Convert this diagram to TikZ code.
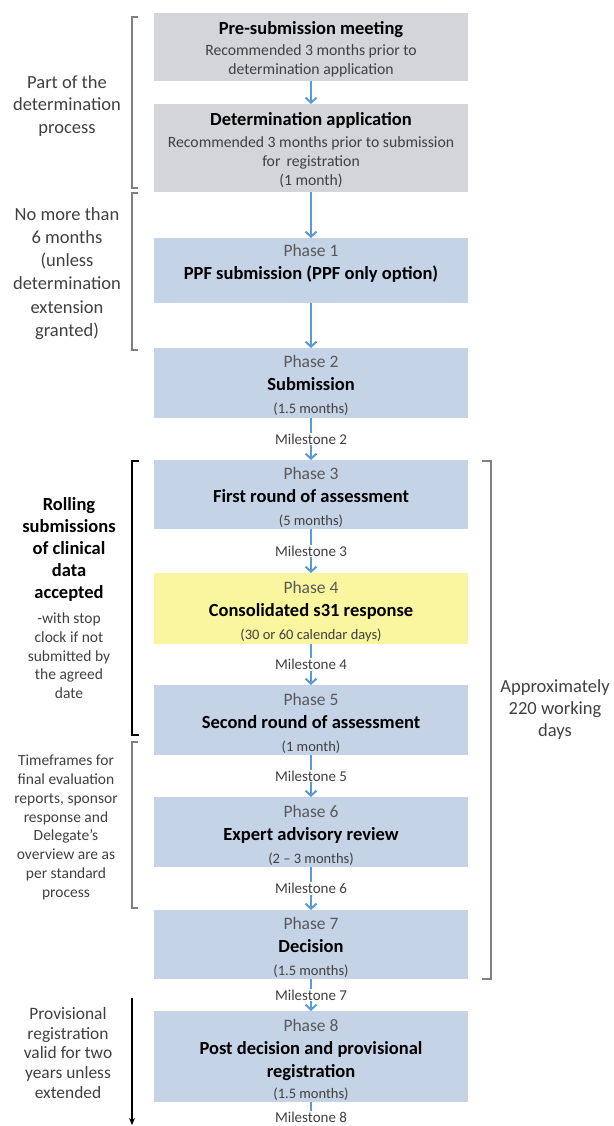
\documentclass[tikz,border=0pt]{standalone}
\usepackage{fontspec}
\setmainfont{Carlito}
\usetikzlibrary{arrows.meta, positioning}
\definecolor{greybox}{RGB}{211,213,217}
\definecolor{bluebox}{RGB}{197,211,230}
\definecolor{yellowbox}{RGB}{250,246,160}
\definecolor{flowblue}{RGB}{91,155,213}
\definecolor{darktext}{RGB}{64,64,64}
\definecolor{phasetext}{RGB}{89,89,89}
\definecolor{brackgrey}{RGB}{127,127,127}
\newcommand{\phasefont}{\fontsize{17.5}{23}\selectfont\color{phasetext}\rule{0pt}{18pt}}
\newcommand{\titlefont}{\fontsize{18.5}{23}\selectfont\bfseries\color{black}\rule{0pt}{17pt}}
\newcommand{\durfont}{\fontsize{14.5}{19}\selectfont\color{darktext}}
\newcommand{\notefont}{\fontsize{15.7}{19}\selectfont\color{darktext}}
\tikzset{
  box/.style = {rectangle, minimum width=314pt, inner sep=0pt, outer sep=0pt, align=center},
  greystep/.style = {box, fill=greybox, font=\fontsize{15.7}{19}\selectfont},
  phase/.style = {box, fill=bluebox, font=\fontsize{17.5}{23}\selectfont},
  flow/.style = {draw=flowblue, line width=2pt},
  flowarrow/.style = {flow, -{Straight Barb[length=5pt,width=11pt]}},
  milestone/.style = {inner sep=1pt, font=\fontsize{15}{18}\selectfont, text=darktext},
  sidenote/.style = {align=center, inner sep=0pt, text=darktext},
  brace/.style = {draw=brackgrey, line width=1.5pt},
}

\begin{document}
\begin{tikzpicture}[x=1pt, y=-1pt]
    \useasboundingbox (0,0) rectangle (613,1126);

    \node (b1) [greystep, minimum height=68pt] at (311,47) {{\titlefont Pre-submission meeting}\\[2pt] {\notefont Recommended 3 months prior to}\\ {\notefont determination application}};
    \node (b2) [greystep, minimum height=88pt, below=23pt of b1] {{\titlefont Determination application}\\[3pt] {\notefont Recommended 3 months prior to submission}\\ {\notefont for\, registration}\\ {\notefont (1 month)}};
    \node (p1) [phase, minimum height=65pt, below=46pt of b2] {{\phasefont Phase 1}\\ {\titlefont PPF submission (PPF only option)}\\ ~};
    \node (p2) [phase, minimum height=70pt, below=45pt of p1] {{\phasefont Phase 2}\\ {\titlefont Submission}\\ {\durfont (1.5 months)}};
    \node (p3) [phase, minimum height=69pt, below=42pt of p2] {{\phasefont Phase 3}\\ {\titlefont First round of assessment}\\ {\durfont (5 months)}};
    \node (p4) [phase, fill=yellowbox, minimum height=71pt, below=44pt of p3] {{\phasefont Phase 4}\\ {\titlefont Consolidated s31 response}\\ {\durfont (30 or 60 calendar days)}};
    \node (p5) [phase, minimum height=70pt, below=41pt of p4] {{\phasefont Phase 5}\\ {\titlefont Second round of assessment}\\ {\durfont (1 month)}};
    \node (p6) [phase, minimum height=70pt, below=42pt of p5] {{\phasefont Phase 6}\\ {\titlefont Expert advisory review}\\ {\durfont (2 -- 3 months)}};
    \node (p7) [phase, minimum height=69pt, below=43pt of p6] {{\phasefont Phase 7}\\ {\titlefont Decision}\\ {\durfont (1.5 months)}};
    \node (p8) [phase, minimum height=91pt, below=32pt of p7] {{\phasefont Phase 8}\\ {\titlefont Post decision and provisional}\\ {\titlefont registration}\\[-2pt] {\durfont (1.5 months)}};

    \path (p2.south) -- node[milestone] (ms2) {Milestone 2} (p3.north);
    \path (p3.south) -- node[milestone] (ms3) {Milestone 3} (p4.north);
    \path (p4.south) -- node[milestone] (ms4) {Milestone 4} (p5.north);
    \path (p5.south) -- node[milestone] (ms5) {Milestone 5} (p6.north);
    \path (p6.south) -- node[milestone] (ms6) {Milestone 6} (p7.north);
    \path (p7.south) -- node[milestone] (ms7) {Milestone 7} (p8.north);
    \node (ms8) [milestone, below=9pt of p8] {Milestone 8};

    \draw [flowarrow] (b1) -- (b2);
    \draw [flowarrow] (b2) -- (p1);
    \draw [flowarrow] (p1) -- (p2);
    \foreach \a/\m/\b in {p2/ms2/p3, p3/ms3/p4, p4/ms4/p5, p5/ms5/p6, p6/ms6/p7, p7/ms7/p8} {
        \draw [flow] (\a) -- (\m);
        \draw [flowarrow] (\m) -- (\b);
    }
    \draw [flow] (p8) -- (ms8);

    \node (n1) [sidenote, font=\fontsize{18.5}{22.5}\selectfont] at (67,106) {Part of the\\ determination\\ process};
    \node (n2) [sidenote, font=\fontsize{18.5}{23.3}\selectfont] at (67,273.5) {No more than\\ 6 months\\ (unless\\ determination\\ extension\\ granted)};
    \node (n3) [sidenote, text=black, font=\fontsize{18.5}{22}\selectfont\bfseries] at (69,549.5) {Rolling\\ submissions\\ of clinical\\ data\\ accepted};
    \node (n4) [sidenote, font=\fontsize{15.5}{18.7}\selectfont, below=11pt of n3] {-with stop\\ clock if not\\ submitted by\\ the agreed\\ date};
    \node (n5) [sidenote, font=\fontsize{15.5}{18.8}\selectfont] at (66,827.5) {Timeframes for\\ final evaluation\\ reports, sponsor\\ response and\\ Delegate’s\\ overview are as\\ per standard\\ process};
    \node (n6) [sidenote, font=\fontsize{17.4}{19.6}\selectfont] at (68,1053) {Provisional\\ registration\\ valid for two\\ years unless\\ extended};
    \node (n7) [sidenote, font=\fontsize{18.5}{22}\selectfont] at (555,710) {Approximately\\ 220 working\\ days};

    \draw [brace] (138,17) -| (132,188) -- (138,188);
    \draw [brace] (138,193) -| (132,350) -- (138,350);
    \draw [brace, draw=black, line width=2.2pt] (139,461) -| (132,735) -- (139,735);
    \draw [brace] (138,742) -| (132,908) -- (138,908);
    \draw [brace] (482,461) -| (491,979) -- (482,979);

    \coordinate (provtop) at (132,998);
    \coordinate (provend) at (132,1125);
    \draw [-{Stealth[length=7pt,width=6pt]}, line width=1.5pt] (provtop) -- (provend);
\end{tikzpicture}
\end{document}
